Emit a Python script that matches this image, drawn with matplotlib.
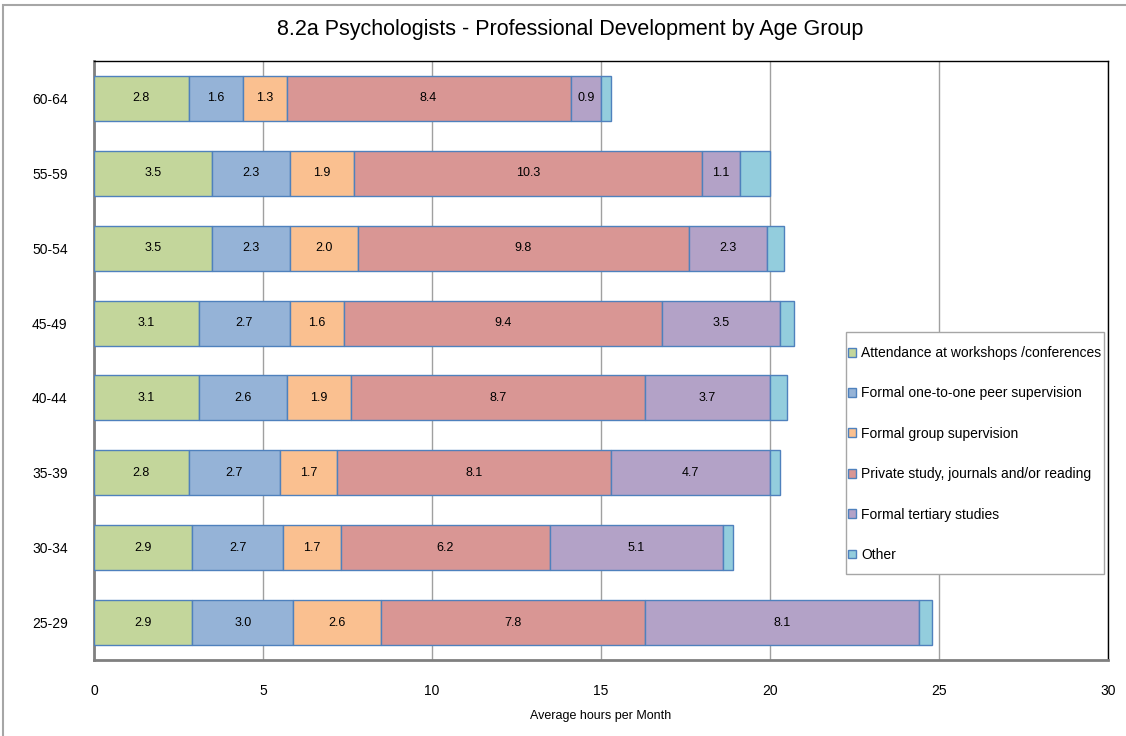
import matplotlib.pyplot as plt
from matplotlib.patches import Rectangle

plt.rcParams['font.family'] = ['Liberation Sans', 'DejaVu Sans']

# Data
age_groups = ['25-29', '30-34', '35-39', '40-44', '45-49', '50-54', '55-59', '60-64']
workshops = [2.9, 2.9, 2.8, 3.1, 3.1, 3.5, 3.5, 2.8]
one_to_one = [3.0, 2.7, 2.7, 2.6, 2.7, 2.3, 2.3, 1.6]
group_sup = [2.6, 1.7, 1.7, 1.9, 1.6, 2.0, 1.9, 1.3]
private_study = [7.8, 6.2, 8.1, 8.7, 9.4, 9.8, 10.3, 8.4]
tertiary = [8.1, 5.1, 4.7, 3.7, 3.5, 2.3, 1.1, 0.9]
other = [0.4, 0.3, 0.3, 0.5, 0.4, 0.5, 0.9, 0.3]

series_names = ['Attendance at workshops /conferences',
                'Formal one-to-one peer supervision',
                'Formal group supervision',
                'Private study, journals and/or reading',
                'Formal tertiary studies',
                'Other']
series_values = [workshops, one_to_one, group_sup, private_study, tertiary, other]
colors = ['#C3D69B', '#95B3D7', '#FAC090', '#D99694', '#B3A2C7', '#93CDDD']
show_labels = [True, True, True, True, True, False]

W, H = 1126, 736
fig = plt.figure(figsize=(W / 100, H / 100), dpi=100)
ax = fig.add_axes([94 / W, 1 - 660 / H, (1108 - 94) / W, (660 - 61) / H])

# outer chart border
fig.patches.append(Rectangle((3 / W, -0.01), 1.1, 1 - 5 / H + 0.01,
                             transform=fig.transFigure, fill=False,
                             edgecolor='#A6A6A6', linewidth=1.5))

y = list(range(len(age_groups)))
left = [0.0] * len(age_groups)
for name, vals, col, lab in zip(series_names, series_values, colors, show_labels):
    bars = ax.barh(y, vals, left=left, height=0.6, color=col,
                   edgecolor='#4F81BD', linewidth=1.0, label=name, zorder=3)
    if lab:
        ax.bar_label(bars, labels=[f'{v:.1f}' for v in vals], label_type='center',
                     fontsize=9, color='black')
    left = [a + b for a, b in zip(left, vals)]

ax.set_xlim(0, 30)
ax.set_ylim(-0.5, len(age_groups) - 0.5)
ax.set_yticks(y)
ax.set_yticklabels(age_groups, fontsize=10)
ax.set_xticks([0, 5, 10, 15, 20, 25, 30])
ax.tick_params(axis='both', length=0)
ax.tick_params(axis='x', pad=17, labelsize=10)
ax.tick_params(axis='y', pad=19)
ax.xaxis.grid(True, color='#A0A0A0', linewidth=1.0, zorder=0)
ax.set_axisbelow(True)

for s in ['top', 'right']:
    ax.spines[s].set_color('black')
    ax.spines[s].set_linewidth(1.0)
for s in ['left', 'bottom']:
    ax.spines[s].set_color('#808080')
    ax.spines[s].set_linewidth(2.0)

ax.set_xlabel('Average hours per Month', fontsize=9, labelpad=9)
fig.text(570 / W, 1 - 30 / H, '8.2a Psychologists - Professional Development by Age Group',
         ha='center', va='center', fontsize=15.5)

# legend box drawn separately so its padding can follow the reference
ax.add_patch(Rectangle((846 / W, 1 - 574 / H), (1104 - 846) / W, (574 - 332) / H,
                       transform=fig.transFigure, facecolor='white', clip_on=False,
                       edgecolor='#A6A6A6', linewidth=1.0, zorder=4))
leg = ax.legend(loc='upper left', bbox_to_anchor=(848 / W, 1 - 346 / H),
                bbox_transform=fig.transFigure, fontsize=10, frameon=False,
                handlelength=0.6, handleheight=0.6, handletextpad=0.35,
                labelspacing=1.9, borderpad=0, borderaxespad=0)
leg.set_zorder(5)

fig.savefig('out.png', dpi=100)
